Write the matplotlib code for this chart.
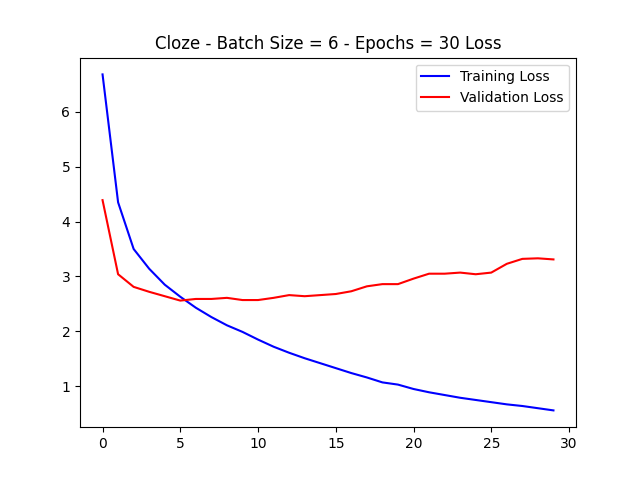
import matplotlib
matplotlib.use("Agg")
import matplotlib.pyplot as plt

epochs = list(range(30))
train_loss = [6.68, 4.35, 3.50, 3.14, 2.85, 2.63, 2.43, 2.26, 2.11, 1.99,
              1.85, 1.72, 1.61, 1.51, 1.42, 1.33, 1.24, 1.16, 1.07, 1.03,
              0.95, 0.89, 0.84, 0.79, 0.75, 0.71, 0.67, 0.64, 0.60, 0.56]
val_loss = [4.39, 3.04, 2.81, 2.72, 2.64, 2.56, 2.59, 2.59, 2.61, 2.57,
            2.57, 2.61, 2.66, 2.64, 2.66, 2.68, 2.73, 2.82, 2.86, 2.86,
            2.96, 3.05, 3.05, 3.07, 3.04, 3.07, 3.23, 3.32, 3.33, 3.31]

fig, ax = plt.subplots(figsize=(6.4, 4.8), dpi=100)
ax.plot(epochs, train_loss, color='blue', label='Training Loss')
ax.plot(epochs, val_loss, color='red', label='Validation Loss')
ax.set_title('Cloze - Batch Size = 6 - Epochs = 30 Loss')
ax.legend(loc='upper right')
fig.savefig('out.png')
